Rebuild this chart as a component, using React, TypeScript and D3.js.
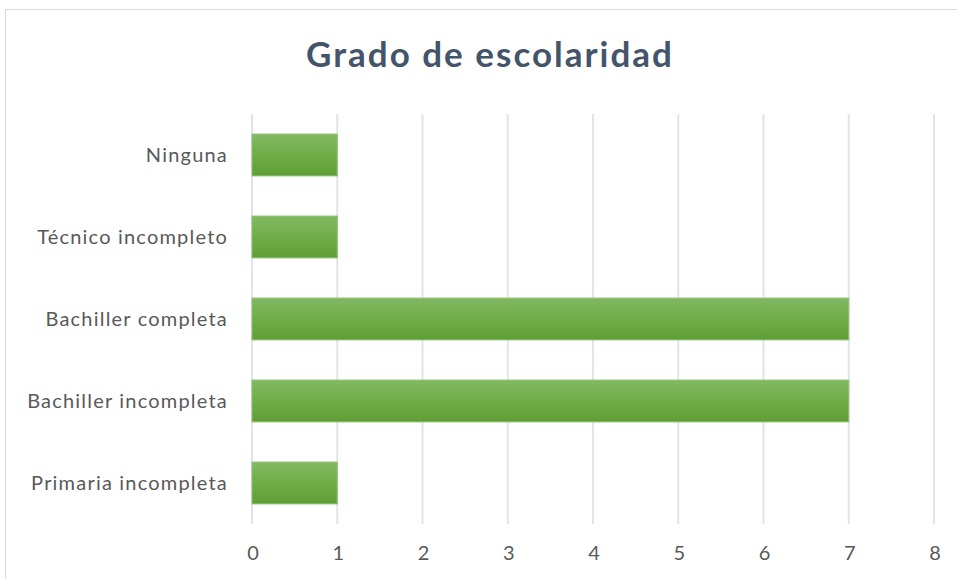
import React, { useEffect, useRef } from "react";
import * as d3 from "d3";

const categories = ["Ninguna", "Técnico incompleto", "Bachiller completa", "Bachiller incompleta", "Primaria incompleta"];
const values = [1, 1, 7, 7, 1];
const xTicks = [0, 1, 2, 3, 4, 5, 6, 7, 8];
const title = "Grado de escolaridad";

const W = 957;
const H = 579;

export default function App() {
  const ref = useRef<SVGSVGElement>(null);
  useEffect(() => {
    const svg = d3.select(ref.current);
    svg.selectAll("*").remove();
    const font = "Lato, 'Open Sans', sans-serif";

    const defs = svg.append("defs");
    const grad = defs.append("linearGradient").attr("id", "barGrad").attr("x1", 0).attr("y1", 0).attr("x2", 0).attr("y2", 1);
    grad.append("stop").attr("offset", "0%").attr("stop-color", "#81b963");
    grad.append("stop").attr("offset", "50%").attr("stop-color", "#70ad47");
    grad.append("stop").attr("offset", "100%").attr("stop-color", "#5f9e35");

    svg.append("rect").attr("x", 0).attr("y", 0).attr("width", W).attr("height", H).attr("fill", "#fff");
    svg.append("rect").attr("x", 5.5).attr("y", 9.5).attr("width", W).attr("height", H).attr("fill", "none").attr("stroke", "#d9d9d9");

    const x = d3.scaleLinear().domain([0, 8]).range([252, 934]);
    const y = d3.scaleBand().domain(categories).range([114, 524]).paddingInner(0.49).paddingOuter(0.245);

    svg.append("g").selectAll("line").data(xTicks).join("line")
      .attr("x1", (d) => x(d)).attr("x2", (d) => x(d))
      .attr("y1", 114).attr("y2", 524)
      .attr("stroke", "#e1e4e8").attr("stroke-width", 2);

    svg.append("g").selectAll("rect").data(values).join("rect")
      .attr("x", x(0))
      .attr("y", (_, i) => y(categories[i])!)
      .attr("width", (d) => x(d) - x(0))
      .attr("height", y.bandwidth())
      .attr("fill", "url(#barGrad)")
      .attr("stroke", "#8cc06c").attr("stroke-width", 1);

    svg.append("g").selectAll("text").data(categories).join("text")
      .attr("x", 228)
      .attr("y", (d) => y(d)! + y.bandwidth() / 2)
      .attr("dy", "0.35em")
      .attr("text-anchor", "end")
      .attr("font-family", font).attr("font-size", 20).attr("letter-spacing", 1.2).attr("fill", "#595959")
      .text((d) => d);

    svg.append("g").selectAll("text").data(xTicks).join("text")
      .attr("x", (d) => x(d) + 1)
      .attr("y", 553)
      .attr("dy", "0.35em")
      .attr("text-anchor", "middle")
      .attr("font-family", font).attr("font-size", 20).attr("fill", "#595959")
      .text((d) => String(d));

    svg.append("text")
      .attr("x", 490).attr("y", 55).attr("dy", "0.35em")
      .attr("text-anchor", "middle")
      .attr("font-family", font).attr("font-size", 35).attr("letter-spacing", 2).attr("font-weight", "bold").attr("fill", "#44546a")
      .text(title);
  }, []);
  return <svg ref={ref} width={W} height={H} style={{ position: "absolute", left: 0, top: 0 }} />;
}
